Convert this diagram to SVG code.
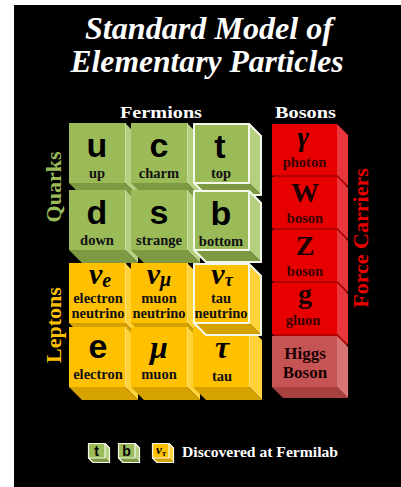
<svg xmlns="http://www.w3.org/2000/svg" xmlns:xlink="http://www.w3.org/1999/xlink" width="401" height="487" viewBox="0 0 401 487">
<style>
.title{font-family:"Liberation Serif",serif;font-weight:bold;font-style:italic;fill:#fff;font-size:31px;text-anchor:middle}
.head{font-family:"Liberation Serif",serif;font-weight:bold;fill:#fff;font-size:17px;text-anchor:middle}
.side{font-family:"Liberation Serif",serif;font-weight:bold;font-size:22px;text-anchor:middle}
.sym{font-family:"Liberation Sans",sans-serif;font-weight:bold;fill:#000;text-anchor:middle}
.gk{font-family:"Liberation Serif",serif;font-weight:bold;font-style:italic;fill:#000;text-anchor:middle}
.rm{font-family:"Liberation Serif",serif;font-weight:bold;fill:#1a0000;text-anchor:middle}
.lbl{font-family:"Liberation Serif",serif;font-weight:bold;font-size:14.5px;fill:#111;text-anchor:middle}
.rl{font-family:"Liberation Serif",serif;font-weight:bold;font-size:14.5px;fill:#3a0000;text-anchor:middle}
.gf{fill:#9bbb59}.gs{fill:#b4cf80}.gb{fill:#7d9a43}
.yf{fill:#ffc000}.ys{fill:#ffd23a}.yb{fill:#d6a200}
.rf{fill:#e60000}.rs{fill:#e8363d}.rb{fill:#b30000}
.hf{fill:#c65454}.hs{fill:#d87474}.hb{fill:#a84040}
.hl{fill:none;stroke:#f4f8ea;stroke-width:2;stroke-linejoin:round}
.hls{fill:none;stroke:#f4f8ea;stroke-width:1.2;stroke-linejoin:round}
.seam{stroke:#c9dc9f;stroke-width:1}
.yseam{stroke:#ffe07a;stroke-width:1}
</style>
<defs>
<g id="gcube"><polygon class="gs" points="56,0 69,13 69,73 56,60"/><polygon class="gb" points="0,60 56,60 69,73 13,73"/><rect class="gf" width="56" height="60"/><line class="seam" x1="56.5" y1="0" x2="56.5" y2="60"/></g>
<g id="ycube"><polygon class="ys" points="56,0 69,13 69,73 56,60"/><polygon class="yb" points="0,60 56,60 69,73 13,73"/><rect class="yf" width="56" height="60"/><line class="yseam" x1="56.5" y1="0" x2="56.5" y2="60"/></g>
<path id="hlbig" class="hl" d="M1,1H56L68,13V72H13L1,60Z M56,1V60H1"/>
<g id="rcube"><polygon class="rs" points="65,0 76,11 76,62 65,51"/><polygon class="rb" points="0,51 65,51 76,62 11,62"/><rect class="rf" width="65" height="51"/></g>
<g id="hcube"><polygon class="hs" points="65,0 76,11 76,62 65,51"/><polygon class="hb" points="0,51 65,51 76,62 11,62"/><rect class="hf" width="65" height="51"/></g>
<g id="sg"><polygon class="gs" points="17,0 22,5 22,20 17,15"/><polygon class="gb" points="0,15 17,15 22,20 5,20"/><rect class="gf" width="17" height="15"/><path class="hls" d="M0.5,0.5H17L21.5,5V19.5H5L0.5,15Z M17,0.5V15H0.5"/></g>
<g id="sy"><polygon class="ys" points="17,0 22,5 22,20 17,15"/><polygon class="yb" points="0,15 17,15 22,20 5,20"/><rect class="yf" width="17" height="15"/><path class="hls" d="M0.5,0.5H17L21.5,5V19.5H5L0.5,15Z M17,0.5V15H0.5"/></g>
</defs>

<rect x="14" y="5" width="387" height="482" fill="#000"/>

<g id="title">
<text class="title" x="209" y="39" textLength="248" lengthAdjust="spacingAndGlyphs">Standard Model of</text>
<text class="title" x="207" y="72" textLength="273" lengthAdjust="spacingAndGlyphs">Elementary Particles</text>
</g>

<g id="headings">
<text class="head" x="161" y="118" textLength="82" lengthAdjust="spacingAndGlyphs">Fermions</text>
<text class="head" x="305.5" y="118" textLength="61" lengthAdjust="spacingAndGlyphs">Bosons</text>
<text class="side" fill="#9bbb59" transform="translate(61,187) rotate(-90)">Quarks</text>
<text class="side" fill="#ffc000" transform="translate(61,325) rotate(-90)">Leptons</text>
<text class="side" fill="#e60000" transform="translate(368,238) rotate(-90)">Force Carriers</text>
</g>

<g id="connectors"/>

<g id="up"><use xlink:href="#gcube" x="69" y="123"/><text class="sym" x="97" y="157" style="font-size:34px">u</text><text class="lbl" x="97" y="178">up</text></g>
<g id="charm"><use xlink:href="#gcube" x="131" y="123"/><text class="sym" x="159" y="157" style="font-size:34px">c</text><text class="lbl" x="159" y="178">charm</text></g>
<g id="down"><use xlink:href="#gcube" x="69" y="190"/><text class="sym" x="97" y="224" style="font-size:34px">d</text><text class="lbl" x="97" y="245">down</text></g>
<g id="strange"><use xlink:href="#gcube" x="131" y="190"/><text class="sym" x="159" y="224" style="font-size:34px">s</text><text class="lbl" x="159" y="245">strange</text></g>

<g id="electron-neutrino"><use xlink:href="#ycube" x="69" y="263"/><text class="gk" x="100" y="284" font-size="30">ν<tspan font-size="20" dy="3">e</tspan></text><text class="lbl" x="98" y="303">electron</text><text class="lbl" x="98" y="318">neutrino</text></g>
<g id="muon-neutrino"><use xlink:href="#ycube" x="131" y="263"/><text class="gk" x="159" y="284" font-size="30">ν<tspan font-size="20" dy="2">μ</tspan></text><text class="lbl" x="159" y="303">muon</text><text class="lbl" x="159" y="318">neutrino</text></g>
<g id="electron"><use xlink:href="#ycube" x="69" y="327"/><text class="sym" x="98" y="358" style="font-size:34px">e</text><text class="lbl" x="98" y="379">electron</text></g>
<g id="muon"><use xlink:href="#ycube" x="131" y="327"/><text class="gk" x="159" y="358" font-size="32">μ</text><text class="lbl" x="159" y="379">muon</text></g>
<g id="tau"><use xlink:href="#ycube" x="193" y="327"/><text class="gk" x="222" y="358" font-size="32">τ</text><text class="lbl" x="222" y="381">tau</text></g>

<g id="top"><use xlink:href="#gcube" x="193" y="123"/><use xlink:href="#hlbig" x="193" y="123"/><text class="sym" x="220" y="158" style="font-size:34px">t</text><text class="lbl" x="221" y="178">top</text></g>
<g id="bottom"><use xlink:href="#gcube" x="193" y="190"/><use xlink:href="#hlbig" x="193" y="190"/><text class="sym" x="221" y="225" style="font-size:34px">b</text><text class="lbl" x="221" y="246">bottom</text></g>
<g id="tau-neutrino"><use xlink:href="#ycube" x="193" y="263"/><use xlink:href="#hlbig" x="193" y="263"/><text class="gk" x="222" y="284" font-size="30">ν<tspan font-size="18" dy="2">τ</tspan></text><text class="lbl" x="221" y="303">tau</text><text class="lbl" x="221" y="318">neutrino</text></g>

<g id="photon"><use xlink:href="#rcube" x="272" y="124"/><text class="gk" x="303" y="146" font-size="28" fill="#1a0000">γ</text><text class="rl" x="304.5" y="167">photon</text></g>
<g id="w-boson"><use xlink:href="#rcube" x="272" y="177"/><text class="rm" x="305" y="202" font-size="28">W</text><text class="rl" x="305" y="223">boson</text></g>
<g id="z-boson"><use xlink:href="#rcube" x="272" y="230"/><text class="rm" x="305" y="255" font-size="28">Z</text><text class="rl" x="305" y="276">boson</text></g>
<g id="gluon"><use xlink:href="#rcube" x="272" y="283"/><text class="rm" x="305" y="303" font-size="28">g</text><text class="rl" x="303" y="325">gluon</text></g>
<g id="higgs"><use xlink:href="#hcube" x="272" y="336"/><text class="rm" x="305" y="359" font-size="17" fill="#2a0000">Higgs</text><text class="rm" x="305" y="378" font-size="17" fill="#2a0000">Boson</text></g>

<g id="legend">
<use xlink:href="#sg" x="88" y="443"/><text class="sym" x="96.5" y="456" style="font-size:14px">t</text>
<use xlink:href="#sg" x="118" y="443"/><text class="sym" x="126.5" y="456" style="font-size:14px">b</text>
<use xlink:href="#sy" x="152" y="443"/><text class="gk" x="161" y="454" font-size="13">ν<tspan font-size="9" dy="2">τ</tspan></text>
<text class="head" x="182" y="457" style="font-size:15.5px;text-anchor:start" textLength="156" lengthAdjust="spacingAndGlyphs">Discovered at Fermilab</text>
</g>
</svg>
